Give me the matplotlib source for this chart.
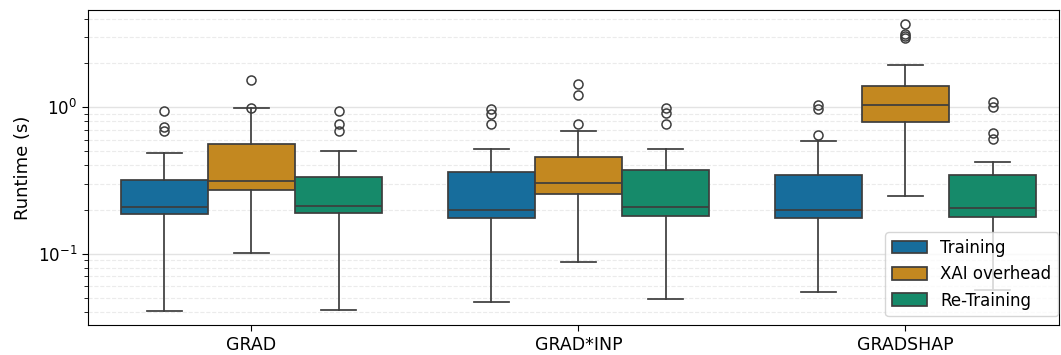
import numpy as np
import matplotlib
matplotlib.use("Agg")
import matplotlib.pyplot as plt
from matplotlib.patches import Patch

# ─── DATA (seconds) ────────────────────────────────────────────────────────────

methods = ["GRAD", "GRAD*INP", "GRADSHAP"]
phases = ["Training", "XAI overhead", "Re-Training"]

# per phase: one entry per method -> (whislo, q1, median, q3, whishi)
training_stats = [
    (0.0404, 0.185, 0.207, 0.320, 0.486),
    (0.0468, 0.176, 0.200, 0.362, 0.515),
    (0.0544, 0.174, 0.197, 0.342, 0.586),
]
xai_stats = [
    (0.101, 0.270, 0.311, 0.557, 0.984),
    (0.0877, 0.255, 0.302, 0.459, 0.686),
    (0.246, 0.787, 1.04, 1.40, 1.92),
]
retraining_stats = [
    (0.0415, 0.190, 0.212, 0.333, 0.501),
    (0.0488, 0.180, 0.208, 0.372, 0.515),
    (0.0565, 0.177, 0.205, 0.346, 0.425),
]

training_fliers = [[0.94, 0.73, 0.686], [0.975, 0.90, 0.762], [1.03, 0.975, 0.641]]
xai_fliers = [[1.54, 0.99], [1.44, 1.20, 0.762], [3.67, 3.17, 3.05, 2.96]]
retraining_fliers = [[0.94, 0.77, 0.69], [0.99, 0.916, 0.77], [1.08, 1.0, 0.669, 0.609]]

# ─── STYLE ─────────────────────────────────────────────────────────────────────

colors = ["#176d9c", "#c38820", "#168a6a"]
line_col = "#3d3d3d"
lw = 1.25

all_stats = [training_stats, xai_stats, retraining_stats]
all_fliers = [training_fliers, xai_fliers, retraining_fliers]

fig = plt.figure(figsize=(10.61, 3.55), dpi=100)
ax = fig.add_axes([88 / 1061, 1 - 325 / 355, (1059 - 88) / 1061, 315 / 355])

width = 0.8 / 3
for h, (stats, fliers) in enumerate(zip(all_stats, all_fliers)):
    offset = (h - 1) * width
    bxp_stats = []
    for (lo, q1, med, q3, hi), fl in zip(stats, fliers):
        bxp_stats.append(dict(whislo=lo, q1=q1, med=med, q3=q3, whishi=hi, fliers=fl))
    ax.bxp(bxp_stats, positions=np.arange(len(methods)) + offset,
           widths=width, patch_artist=True, manage_ticks=False,
           capwidths=0.4 * width,
           boxprops=dict(facecolor=colors[h], edgecolor=line_col, linewidth=lw),
           medianprops=dict(color=line_col, linewidth=lw),
           whiskerprops=dict(color=line_col, linewidth=lw),
           capprops=dict(color=line_col, linewidth=lw),
           flierprops=dict(marker="o", markerfacecolor="none",
                           markeredgecolor=line_col, markersize=6.5,
                           markeredgewidth=1.1),
           zorder=3)

ax.set_yscale("log")
ax.set_ylim(0.0326, 4.59)
ax.set_xlim(-0.5, 2.47)
ax.set_xticks(range(len(methods)))
ax.set_xticklabels(methods, fontsize=12.5)
ax.tick_params(axis="y", labelsize=12)
ax.tick_params(which="major", length=4.3)
ax.tick_params(which="minor", length=2.8)
ax.set_ylabel("Runtime (s)", fontsize=13)

ax.grid(True, which="major", axis="y", color="#e3e3e3", linewidth=1.0, zorder=0)
ax.grid(True, which="minor", axis="y", color="#ebebeb", linewidth=0.8,
        linestyle="--", zorder=0)
ax.set_axisbelow(True)

handles = [Patch(facecolor=c, edgecolor=line_col, linewidth=lw) for c in colors]
ax.legend(handles, phases, loc="lower right", fontsize=12, framealpha=0.8,
          bbox_to_anchor=(0.999, 0.028), borderaxespad=0,
          handlelength=2.1, handleheight=0.8, labelspacing=0.5)

fig.savefig("out.png", dpi=100)
